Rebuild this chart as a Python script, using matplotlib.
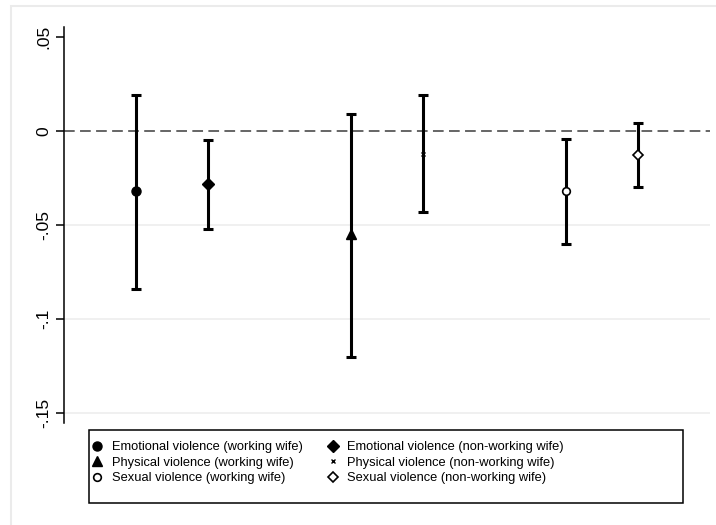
import matplotlib
matplotlib.use("Agg")
import matplotlib.pyplot as plt
import matplotlib.patches as patches
from matplotlib.lines import Line2D
import numpy as np

plt.rcParams['font.family'] = ['Liberation Sans', 'DejaVu Sans']

# Coefficients with 95% confidence bounds
labels = [
    "Emotional violence (working wife)",
    "Emotional violence (non-working wife)",
    "Physical violence (working wife)",
    "Physical violence (non-working wife)",
    "Sexual violence (working wife)",
    "Sexual violence (non-working wife)",
]
positions = [1, 2, 4, 5, 7, 8]
estimates = [-0.032, -0.028, -0.055, -0.012, -0.032, -0.013]
lower = [-0.084, -0.052, -0.120, -0.043, -0.060, -0.030]
upper = [0.019, -0.005, 0.009, 0.019, -0.004, 0.004]

# marker, size, face colour, edge width
styles = [
    ('o', 6.5, 'black', 1.0),
    ('D', 6.0, 'black', 1.0),
    ('^', 7.0, 'black', 1.0),
    ('x', 3.0, 'black', 1.0),
    ('o', 5.5, 'white', 1.2),
    ('D', 5.5, 'white', 1.2),
]

yticks = [0.05, 0, -0.05, -0.1, -0.15]
ytick_labels = ['.05', '0', '-.05', '-.1', '-.15']

W, H = 716, 525
fig = plt.figure(figsize=(W / 100, H / 100), dpi=100)
fig.patch.set_facecolor('white')

# light outer frame
fig.patches.append(patches.Rectangle((11 / W, -0.1), 1.2, 1 - 6 / H + 0.1,
                                     transform=fig.transFigure, fill=False,
                                     edgecolor='#ebebeb', linewidth=1.5))

ax = fig.add_axes([64 / W, 1 - 423 / H, (710 - 64) / W, (423 - 27) / H])
ax.set_xlim(0, 9)
ax.set_ylim(-0.1553, 0.0553)

for t in [-0.05, -0.1, -0.15]:
    ax.axhline(t, color='#ececec', linewidth=1.1, zorder=0)
ax.axhline(0, color='#3c3c3c', linewidth=1.1, linestyle=(0, (7.0, 3.5)), zorder=1)

est = np.array(estimates)
yerr = np.vstack([est - np.array(lower), np.array(upper) - est])
ax.errorbar(positions, estimates, yerr=yerr, fmt='none', ecolor='black',
            elinewidth=2.2, capsize=3.6, capthick=2.2, zorder=2)

handles = []
for x, y, lab, (m, ms, fc, mew) in zip(positions, estimates, labels, styles):
    ax.plot([x], [y], linestyle='none', marker=m, markersize=ms,
            markerfacecolor=fc, markeredgecolor='black', markeredgewidth=mew,
            zorder=3)
    handles.append(Line2D([], [], linestyle='none', marker=m, markersize=ms,
                          markerfacecolor=fc, markeredgecolor='black',
                          markeredgewidth=mew, label=lab))

ax.set_yticks(yticks)
ax.set_yticklabels(ytick_labels, rotation=90, va='center', fontsize=12.5)
ax.tick_params(axis='y', length=6, width=1.1, pad=3)
ax.set_xticks([])
for side in ['top', 'right', 'bottom']:
    ax.spines[side].set_visible(False)
ax.spines['left'].set_linewidth(1.1)
ax.patch.set_alpha(0)

# legend box drawn separately, entries in two columns
fig.patches.append(patches.Rectangle((89 / W, 1 - 503 / H), (683 - 89) / W, (503 - 430) / H,
                                     transform=fig.transFigure, fill=False,
                                     edgecolor='black', linewidth=1.1))
order = [0, 2, 4, 1, 3, 5]
fig.legend([handles[i] for i in order], [labels[i] for i in order],
           loc='upper left', bbox_to_anchor=(91 / W, 1 - 441 / H),
           ncol=2, frameon=False, fontsize=9.3, borderpad=0,
           handlelength=1.0, handletextpad=0.6, columnspacing=1.85,
           labelspacing=0.28, borderaxespad=0)

fig.savefig('out.png', dpi=100, facecolor='white')
